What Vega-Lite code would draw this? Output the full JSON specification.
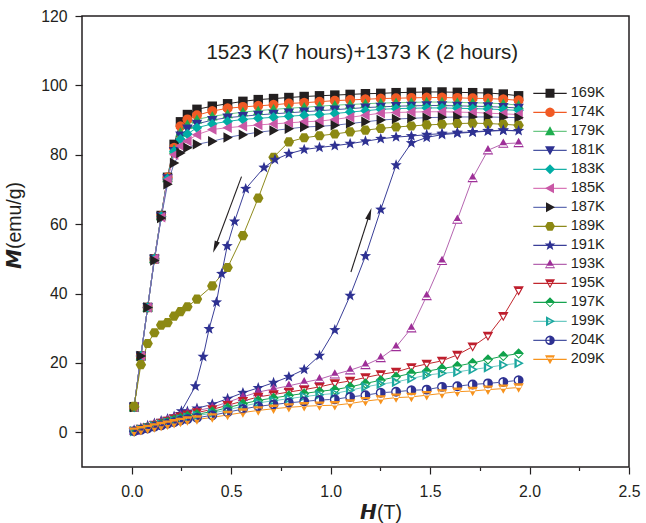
{
  "$schema": "https://vega.github.io/schema/vega-lite/v6.json",
  "width": 547,
  "height": 451,
  "autosize": {"type": "none"},
  "padding": {"left": 82, "top": 16, "right": 17, "bottom": 56},
  "background": "white",
  "config": {
    "view": {"stroke": "#231f20", "strokeWidth": 1.5},
    "font": "Liberation Sans",
    "axis": {"domain": false, "grid": false, "labelFont": "Liberation Sans", "labelFontSize": 15.8, "labelColor": "#231f20", "tickColor": "#231f20", "tickWidth": 1.2, "titleColor": "#231f20", "titleFont": "Liberation Sans", "titleFontWeight": "normal", "titleFontSize": 19.5}
  },
  "datasets": {
    "curves": [
      {"T":"169K","H":0.012,"M":7.3,"i":0},{"T":"169K","H":0.046,"M":22,"i":1},{"T":"169K","H":0.08,"M":36,"i":2},{"T":"169K","H":0.114,"M":50,"i":3},{"T":"169K","H":0.148,"M":62.5,"i":4},{"T":"169K","H":0.18,"M":73.5,"i":5},{"T":"169K","H":0.213,"M":83,"i":6},{"T":"169K","H":0.245,"M":89.5,"i":7},{"T":"169K","H":0.28,"M":91.6,"i":8},{"T":"169K","H":0.328,"M":93.1,"i":9},{"T":"169K","H":0.405,"M":94.0,"i":10},{"T":"169K","H":0.482,"M":94.7,"i":11},{"T":"169K","H":0.559,"M":95.4,"i":12},{"T":"169K","H":0.636,"M":95.9,"i":13},{"T":"169K","H":0.713,"M":96.2,"i":14},{"T":"169K","H":0.79,"M":96.5,"i":15},{"T":"169K","H":0.867,"M":96.8,"i":16},{"T":"169K","H":0.944,"M":97.0,"i":17},{"T":"169K","H":1.021,"M":97.2,"i":18},{"T":"169K","H":1.098,"M":97.4,"i":19},{"T":"169K","H":1.175,"M":97.6,"i":20},{"T":"169K","H":1.252,"M":97.7,"i":21},{"T":"169K","H":1.329,"M":97.9,"i":22},{"T":"169K","H":1.406,"M":98.0,"i":23},{"T":"169K","H":1.483,"M":98.1,"i":24},{"T":"169K","H":1.56,"M":98.1,"i":25},{"T":"169K","H":1.637,"M":98.0,"i":26},{"T":"169K","H":1.714,"M":97.9,"i":27},{"T":"169K","H":1.791,"M":97.8,"i":28},{"T":"169K","H":1.868,"M":97.5,"i":29},{"T":"169K","H":1.945,"M":97.0,"i":30},
      {"T":"174K","H":0.012,"M":7.3,"i":0},{"T":"174K","H":0.046,"M":22,"i":1},{"T":"174K","H":0.08,"M":36,"i":2},{"T":"174K","H":0.114,"M":50,"i":3},{"T":"174K","H":0.148,"M":62.3,"i":4},{"T":"174K","H":0.18,"M":73.5,"i":5},{"T":"174K","H":0.213,"M":82,"i":6},{"T":"174K","H":0.245,"M":88.2,"i":7},{"T":"174K","H":0.28,"M":90.2,"i":8},{"T":"174K","H":0.328,"M":91.4,"i":9},{"T":"174K","H":0.405,"M":92.6,"i":10},{"T":"174K","H":0.482,"M":93.4,"i":11},{"T":"174K","H":0.559,"M":93.8,"i":12},{"T":"174K","H":0.636,"M":94.1,"i":13},{"T":"174K","H":0.713,"M":94.4,"i":14},{"T":"174K","H":0.79,"M":94.8,"i":15},{"T":"174K","H":0.867,"M":95.0,"i":16},{"T":"174K","H":0.944,"M":95.3,"i":17},{"T":"174K","H":1.021,"M":95.6,"i":18},{"T":"174K","H":1.098,"M":95.8,"i":19},{"T":"174K","H":1.175,"M":96.0,"i":20},{"T":"174K","H":1.252,"M":96.2,"i":21},{"T":"174K","H":1.329,"M":96.3,"i":22},{"T":"174K","H":1.406,"M":96.4,"i":23},{"T":"174K","H":1.483,"M":96.5,"i":24},{"T":"174K","H":1.56,"M":96.5,"i":25},{"T":"174K","H":1.637,"M":96.4,"i":26},{"T":"174K","H":1.714,"M":96.3,"i":27},{"T":"174K","H":1.791,"M":96.2,"i":28},{"T":"174K","H":1.868,"M":96.0,"i":29},{"T":"174K","H":1.945,"M":95.7,"i":30},
      {"T":"179K","H":0.012,"M":7.3,"i":0},{"T":"179K","H":0.046,"M":22,"i":1},{"T":"179K","H":0.08,"M":36,"i":2},{"T":"179K","H":0.114,"M":50,"i":3},{"T":"179K","H":0.148,"M":62.3,"i":4},{"T":"179K","H":0.18,"M":73.3,"i":5},{"T":"179K","H":0.213,"M":81.5,"i":6},{"T":"179K","H":0.245,"M":86.5,"i":7},{"T":"179K","H":0.28,"M":88.7,"i":8},{"T":"179K","H":0.328,"M":90.2,"i":9},{"T":"179K","H":0.405,"M":91.1,"i":10},{"T":"179K","H":0.482,"M":91.7,"i":11},{"T":"179K","H":0.559,"M":92.3,"i":12},{"T":"179K","H":0.636,"M":92.7,"i":13},{"T":"179K","H":0.713,"M":93.1,"i":14},{"T":"179K","H":0.79,"M":93.4,"i":15},{"T":"179K","H":0.867,"M":93.7,"i":16},{"T":"179K","H":0.944,"M":94.0,"i":17},{"T":"179K","H":1.021,"M":94.3,"i":18},{"T":"179K","H":1.098,"M":94.5,"i":19},{"T":"179K","H":1.175,"M":94.7,"i":20},{"T":"179K","H":1.252,"M":94.9,"i":21},{"T":"179K","H":1.329,"M":95.0,"i":22},{"T":"179K","H":1.406,"M":95.1,"i":23},{"T":"179K","H":1.483,"M":95.2,"i":24},{"T":"179K","H":1.56,"M":95.2,"i":25},{"T":"179K","H":1.637,"M":95.1,"i":26},{"T":"179K","H":1.714,"M":95.0,"i":27},{"T":"179K","H":1.791,"M":94.9,"i":28},{"T":"179K","H":1.868,"M":94.7,"i":29},{"T":"179K","H":1.945,"M":94.3,"i":30},
      {"T":"181K","H":0.012,"M":7.3,"i":0},{"T":"181K","H":0.046,"M":22,"i":1},{"T":"181K","H":0.08,"M":36,"i":2},{"T":"181K","H":0.114,"M":50,"i":3},{"T":"181K","H":0.148,"M":62.2,"i":4},{"T":"181K","H":0.18,"M":73.2,"i":5},{"T":"181K","H":0.213,"M":81,"i":6},{"T":"181K","H":0.245,"M":85.5,"i":7},{"T":"181K","H":0.28,"M":87.5,"i":8},{"T":"181K","H":0.328,"M":88.9,"i":9},{"T":"181K","H":0.405,"M":90.0,"i":10},{"T":"181K","H":0.482,"M":90.7,"i":11},{"T":"181K","H":0.559,"M":91.1,"i":12},{"T":"181K","H":0.636,"M":91.5,"i":13},{"T":"181K","H":0.713,"M":91.8,"i":14},{"T":"181K","H":0.79,"M":92.1,"i":15},{"T":"181K","H":0.867,"M":92.4,"i":16},{"T":"181K","H":0.944,"M":92.7,"i":17},{"T":"181K","H":1.021,"M":93.0,"i":18},{"T":"181K","H":1.098,"M":93.3,"i":19},{"T":"181K","H":1.175,"M":93.6,"i":20},{"T":"181K","H":1.252,"M":93.8,"i":21},{"T":"181K","H":1.329,"M":94.0,"i":22},{"T":"181K","H":1.406,"M":94.1,"i":23},{"T":"181K","H":1.483,"M":94.2,"i":24},{"T":"181K","H":1.56,"M":94.2,"i":25},{"T":"181K","H":1.637,"M":94.1,"i":26},{"T":"181K","H":1.714,"M":94.0,"i":27},{"T":"181K","H":1.791,"M":93.9,"i":28},{"T":"181K","H":1.868,"M":93.7,"i":29},{"T":"181K","H":1.945,"M":93.5,"i":30},
      {"T":"183K","H":0.012,"M":7.3,"i":0},{"T":"183K","H":0.046,"M":22,"i":1},{"T":"183K","H":0.08,"M":36,"i":2},{"T":"183K","H":0.114,"M":50,"i":3},{"T":"183K","H":0.148,"M":62.2,"i":4},{"T":"183K","H":0.18,"M":73,"i":5},{"T":"183K","H":0.213,"M":81,"i":6},{"T":"183K","H":0.245,"M":84.5,"i":7},{"T":"183K","H":0.28,"M":86,"i":8},{"T":"183K","H":0.328,"M":87.8,"i":9},{"T":"183K","H":0.405,"M":88.9,"i":10},{"T":"183K","H":0.482,"M":89.6,"i":11},{"T":"183K","H":0.559,"M":90.2,"i":12},{"T":"183K","H":0.636,"M":90.5,"i":13},{"T":"183K","H":0.713,"M":90.8,"i":14},{"T":"183K","H":0.79,"M":91.1,"i":15},{"T":"183K","H":0.867,"M":91.4,"i":16},{"T":"183K","H":0.944,"M":91.6,"i":17},{"T":"183K","H":1.021,"M":91.9,"i":18},{"T":"183K","H":1.098,"M":92.3,"i":19},{"T":"183K","H":1.175,"M":92.7,"i":20},{"T":"183K","H":1.252,"M":93.1,"i":21},{"T":"183K","H":1.329,"M":93.3,"i":22},{"T":"183K","H":1.406,"M":93.4,"i":23},{"T":"183K","H":1.483,"M":93.5,"i":24},{"T":"183K","H":1.56,"M":93.5,"i":25},{"T":"183K","H":1.637,"M":93.4,"i":26},{"T":"183K","H":1.714,"M":93.3,"i":27},{"T":"183K","H":1.791,"M":93.2,"i":28},{"T":"183K","H":1.868,"M":93.0,"i":29},{"T":"183K","H":1.945,"M":92.8,"i":30},
      {"T":"185K","H":0.012,"M":7.3,"i":0},{"T":"185K","H":0.046,"M":22,"i":1},{"T":"185K","H":0.08,"M":36,"i":2},{"T":"185K","H":0.114,"M":50,"i":3},{"T":"185K","H":0.148,"M":62,"i":4},{"T":"185K","H":0.18,"M":72.8,"i":5},{"T":"185K","H":0.213,"M":80,"i":6},{"T":"185K","H":0.245,"M":82.5,"i":7},{"T":"185K","H":0.28,"M":84,"i":8},{"T":"185K","H":0.328,"M":85.8,"i":9},{"T":"185K","H":0.405,"M":87.3,"i":10},{"T":"185K","H":0.482,"M":87.8,"i":11},{"T":"185K","H":0.559,"M":88.2,"i":12},{"T":"185K","H":0.636,"M":88.6,"i":13},{"T":"185K","H":0.713,"M":88.9,"i":14},{"T":"185K","H":0.79,"M":89.2,"i":15},{"T":"185K","H":0.867,"M":89.5,"i":16},{"T":"185K","H":0.944,"M":89.7,"i":17},{"T":"185K","H":1.021,"M":90.2,"i":18},{"T":"185K","H":1.098,"M":90.8,"i":19},{"T":"185K","H":1.175,"M":91.4,"i":20},{"T":"185K","H":1.252,"M":92.0,"i":21},{"T":"185K","H":1.329,"M":92.2,"i":22},{"T":"185K","H":1.406,"M":92.3,"i":23},{"T":"185K","H":1.483,"M":92.4,"i":24},{"T":"185K","H":1.56,"M":92.4,"i":25},{"T":"185K","H":1.637,"M":92.3,"i":26},{"T":"185K","H":1.714,"M":92.2,"i":27},{"T":"185K","H":1.791,"M":92.0,"i":28},{"T":"185K","H":1.868,"M":91.8,"i":29},{"T":"185K","H":1.945,"M":91.6,"i":30},
      {"T":"187K","H":0.012,"M":7.3,"i":0},{"T":"187K","H":0.046,"M":22,"i":1},{"T":"187K","H":0.08,"M":36,"i":2},{"T":"187K","H":0.114,"M":49.5,"i":3},{"T":"187K","H":0.148,"M":61.8,"i":4},{"T":"187K","H":0.18,"M":71.5,"i":5},{"T":"187K","H":0.213,"M":77.6,"i":6},{"T":"187K","H":0.245,"M":80.5,"i":7},{"T":"187K","H":0.28,"M":82,"i":8},{"T":"187K","H":0.328,"M":83.0,"i":9},{"T":"187K","H":0.405,"M":83.9,"i":10},{"T":"187K","H":0.482,"M":85.0,"i":11},{"T":"187K","H":0.559,"M":85.8,"i":12},{"T":"187K","H":0.636,"M":86.5,"i":13},{"T":"187K","H":0.713,"M":87.0,"i":14},{"T":"187K","H":0.79,"M":87.5,"i":15},{"T":"187K","H":0.867,"M":88.0,"i":16},{"T":"187K","H":0.944,"M":88.2,"i":17},{"T":"187K","H":1.021,"M":88.5,"i":18},{"T":"187K","H":1.098,"M":89.0,"i":19},{"T":"187K","H":1.175,"M":89.5,"i":20},{"T":"187K","H":1.252,"M":90.0,"i":21},{"T":"187K","H":1.329,"M":90.3,"i":22},{"T":"187K","H":1.406,"M":90.5,"i":23},{"T":"187K","H":1.483,"M":90.7,"i":24},{"T":"187K","H":1.56,"M":90.8,"i":25},{"T":"187K","H":1.637,"M":90.9,"i":26},{"T":"187K","H":1.714,"M":90.9,"i":27},{"T":"187K","H":1.791,"M":90.9,"i":28},{"T":"187K","H":1.868,"M":90.8,"i":29},{"T":"187K","H":1.945,"M":90.7,"i":30},
      {"T":"189K","H":0.012,"M":7.5,"i":0},{"T":"189K","H":0.046,"M":19.5,"i":1},{"T":"189K","H":0.08,"M":25.6,"i":2},{"T":"189K","H":0.114,"M":28.7,"i":3},{"T":"189K","H":0.148,"M":30.9,"i":4},{"T":"189K","H":0.18,"M":31.6,"i":5},{"T":"189K","H":0.213,"M":33.5,"i":6},{"T":"189K","H":0.245,"M":34.8,"i":7},{"T":"189K","H":0.28,"M":36.2,"i":8},{"T":"189K","H":0.328,"M":38.4,"i":9},{"T":"189K","H":0.405,"M":42.2,"i":10},{"T":"189K","H":0.482,"M":47.5,"i":11},{"T":"189K","H":0.559,"M":56.7,"i":12},{"T":"189K","H":0.636,"M":67.5,"i":13},{"T":"189K","H":0.713,"M":79.3,"i":14},{"T":"189K","H":0.79,"M":83.7,"i":15},{"T":"189K","H":0.867,"M":84.9,"i":16},{"T":"189K","H":0.944,"M":85.5,"i":17},{"T":"189K","H":1.021,"M":86.0,"i":18},{"T":"189K","H":1.098,"M":86.6,"i":19},{"T":"189K","H":1.175,"M":87.1,"i":20},{"T":"189K","H":1.252,"M":87.6,"i":21},{"T":"189K","H":1.329,"M":88.0,"i":22},{"T":"189K","H":1.406,"M":88.3,"i":23},{"T":"189K","H":1.483,"M":88.6,"i":24},{"T":"189K","H":1.56,"M":88.8,"i":25},{"T":"189K","H":1.637,"M":89.0,"i":26},{"T":"189K","H":1.714,"M":89.1,"i":27},{"T":"189K","H":1.791,"M":89.0,"i":28},{"T":"189K","H":1.868,"M":88.8,"i":29},{"T":"189K","H":1.945,"M":88.5,"i":30},
      {"T":"191K","H":0.012,"M":0.6,"i":0},{"T":"191K","H":0.046,"M":1.2,"i":1},{"T":"191K","H":0.08,"M":1.9,"i":2},{"T":"191K","H":0.114,"M":2.6,"i":3},{"T":"191K","H":0.148,"M":3.3,"i":4},{"T":"191K","H":0.18,"M":3.9,"i":5},{"T":"191K","H":0.213,"M":4.6,"i":6},{"T":"191K","H":0.245,"M":5.3,"i":7},{"T":"191K","H":0.28,"M":6.0,"i":8},{"T":"191K","H":0.328,"M":6.9,"i":9},{"T":"191K","H":0.405,"M":8.1,"i":10},{"T":"191K","H":0.482,"M":9.7,"i":11},{"T":"191K","H":0.559,"M":11.4,"i":12},{"T":"191K","H":0.636,"M":12.8,"i":13},{"T":"191K","H":0.713,"M":14.3,"i":14},{"T":"191K","H":0.79,"M":16.0,"i":15},{"T":"191K","H":0.867,"M":18.1,"i":16},{"T":"191K","H":0.944,"M":22.1,"i":17},{"T":"191K","H":1.021,"M":29.5,"i":18},{"T":"191K","H":1.098,"M":39.4,"i":19},{"T":"191K","H":1.175,"M":50.8,"i":20},{"T":"191K","H":1.252,"M":64.2,"i":21},{"T":"191K","H":1.329,"M":77.0,"i":22},{"T":"191K","H":1.406,"M":83.4,"i":23},{"T":"191K","H":1.483,"M":85.0,"i":24},{"T":"191K","H":1.56,"M":85.8,"i":25},{"T":"191K","H":1.637,"M":86.2,"i":26},{"T":"191K","H":1.714,"M":86.5,"i":27},{"T":"191K","H":1.791,"M":86.8,"i":28},{"T":"191K","H":1.868,"M":87.0,"i":29},{"T":"191K","H":1.945,"M":86.9,"i":30},
      {"T":"191K","H":1.868,"M":87.1,"i":31},{"T":"191K","H":1.791,"M":86.9,"i":32},{"T":"191K","H":1.714,"M":86.6,"i":33},{"T":"191K","H":1.637,"M":86.4,"i":34},{"T":"191K","H":1.56,"M":86.1,"i":35},{"T":"191K","H":1.483,"M":85.8,"i":36},{"T":"191K","H":1.406,"M":85.4,"i":37},{"T":"191K","H":1.329,"M":85.1,"i":38},{"T":"191K","H":1.252,"M":84.6,"i":39},{"T":"191K","H":1.175,"M":83.9,"i":40},{"T":"191K","H":1.098,"M":83.2,"i":41},{"T":"191K","H":1.021,"M":82.6,"i":42},{"T":"191K","H":0.944,"M":82.1,"i":43},{"T":"191K","H":0.867,"M":81.5,"i":44},{"T":"191K","H":0.79,"M":80.3,"i":45},{"T":"191K","H":0.72,"M":78.6,"i":46},{"T":"191K","H":0.665,"M":76.3,"i":47},{"T":"191K","H":0.573,"M":70.2,"i":48},{"T":"191K","H":0.517,"M":60.8,"i":49},{"T":"191K","H":0.48,"M":53.7,"i":50},{"T":"191K","H":0.452,"M":45.7,"i":51},{"T":"191K","H":0.426,"M":37.5,"i":52},{"T":"191K","H":0.389,"M":29.8,"i":53},{"T":"191K","H":0.359,"M":21.8,"i":54},{"T":"191K","H":0.32,"M":13.3,"i":55},{"T":"191K","H":0.25,"M":6.1,"i":56},
      {"T":"193K","H":0.012,"M":0.5,"i":0},{"T":"193K","H":0.046,"M":1.1,"i":1},{"T":"193K","H":0.08,"M":1.7,"i":2},{"T":"193K","H":0.114,"M":2.4,"i":3},{"T":"193K","H":0.148,"M":3.0,"i":4},{"T":"193K","H":0.18,"M":3.6,"i":5},{"T":"193K","H":0.213,"M":4.3,"i":6},{"T":"193K","H":0.245,"M":4.9,"i":7},{"T":"193K","H":0.28,"M":5.5,"i":8},{"T":"193K","H":0.328,"M":6.2,"i":9},{"T":"193K","H":0.405,"M":7.2,"i":10},{"T":"193K","H":0.482,"M":8.7,"i":11},{"T":"193K","H":0.559,"M":10.2,"i":12},{"T":"193K","H":0.636,"M":11.6,"i":13},{"T":"193K","H":0.713,"M":12.5,"i":14},{"T":"193K","H":0.79,"M":13.4,"i":15},{"T":"193K","H":0.867,"M":14.4,"i":16},{"T":"193K","H":0.944,"M":15.3,"i":17},{"T":"193K","H":1.021,"M":16.7,"i":18},{"T":"193K","H":1.098,"M":17.9,"i":19},{"T":"193K","H":1.175,"M":19.4,"i":20},{"T":"193K","H":1.252,"M":21.4,"i":21},{"T":"193K","H":1.329,"M":24.6,"i":22},{"T":"193K","H":1.406,"M":30.0,"i":23},{"T":"193K","H":1.483,"M":39.3,"i":24},{"T":"193K","H":1.56,"M":49.4,"i":25},{"T":"193K","H":1.637,"M":61.3,"i":26},{"T":"193K","H":1.714,"M":73.3,"i":27},{"T":"193K","H":1.791,"M":81.3,"i":28},{"T":"193K","H":1.868,"M":83.2,"i":29},{"T":"193K","H":1.945,"M":83.4,"i":30},
      {"T":"195K","H":0.012,"M":0.4,"i":0},{"T":"195K","H":0.046,"M":1.0,"i":1},{"T":"195K","H":0.08,"M":1.5,"i":2},{"T":"195K","H":0.114,"M":2.1,"i":3},{"T":"195K","H":0.148,"M":2.7,"i":4},{"T":"195K","H":0.18,"M":3.3,"i":5},{"T":"195K","H":0.213,"M":3.9,"i":6},{"T":"195K","H":0.245,"M":4.5,"i":7},{"T":"195K","H":0.28,"M":5.1,"i":8},{"T":"195K","H":0.328,"M":5.7,"i":9},{"T":"195K","H":0.405,"M":6.6,"i":10},{"T":"195K","H":0.482,"M":7.8,"i":11},{"T":"195K","H":0.559,"M":9.0,"i":12},{"T":"195K","H":0.636,"M":10.2,"i":13},{"T":"195K","H":0.713,"M":10.9,"i":14},{"T":"195K","H":0.79,"M":11.6,"i":15},{"T":"195K","H":0.867,"M":12.3,"i":16},{"T":"195K","H":0.944,"M":13.1,"i":17},{"T":"195K","H":1.021,"M":14.1,"i":18},{"T":"195K","H":1.098,"M":14.8,"i":19},{"T":"195K","H":1.175,"M":15.8,"i":20},{"T":"195K","H":1.252,"M":16.7,"i":21},{"T":"195K","H":1.329,"M":17.4,"i":22},{"T":"195K","H":1.406,"M":18.7,"i":23},{"T":"195K","H":1.483,"M":19.7,"i":24},{"T":"195K","H":1.56,"M":20.6,"i":25},{"T":"195K","H":1.637,"M":22.3,"i":26},{"T":"195K","H":1.714,"M":24.7,"i":27},{"T":"195K","H":1.791,"M":27.8,"i":28},{"T":"195K","H":1.868,"M":33.5,"i":29},{"T":"195K","H":1.945,"M":40.9,"i":30},
      {"T":"197K","H":0.012,"M":0.3,"i":0},{"T":"197K","H":0.046,"M":0.9,"i":1},{"T":"197K","H":0.08,"M":1.4,"i":2},{"T":"197K","H":0.114,"M":1.9,"i":3},{"T":"197K","H":0.148,"M":2.5,"i":4},{"T":"197K","H":0.18,"M":3.0,"i":5},{"T":"197K","H":0.213,"M":3.6,"i":6},{"T":"197K","H":0.245,"M":4.1,"i":7},{"T":"197K","H":0.28,"M":4.7,"i":8},{"T":"197K","H":0.328,"M":5.2,"i":9},{"T":"197K","H":0.405,"M":6.0,"i":10},{"T":"197K","H":0.482,"M":7.1,"i":11},{"T":"197K","H":0.559,"M":8.2,"i":12},{"T":"197K","H":0.636,"M":9.2,"i":13},{"T":"197K","H":0.713,"M":9.9,"i":14},{"T":"197K","H":0.79,"M":10.6,"i":15},{"T":"197K","H":0.867,"M":11.2,"i":16},{"T":"197K","H":0.944,"M":11.8,"i":17},{"T":"197K","H":1.021,"M":12.3,"i":18},{"T":"197K","H":1.098,"M":13.1,"i":19},{"T":"197K","H":1.175,"M":14.1,"i":20},{"T":"197K","H":1.252,"M":15.0,"i":21},{"T":"197K","H":1.329,"M":16.0,"i":22},{"T":"197K","H":1.406,"M":17.0,"i":23},{"T":"197K","H":1.483,"M":17.6,"i":24},{"T":"197K","H":1.56,"M":18.4,"i":25},{"T":"197K","H":1.637,"M":19.1,"i":26},{"T":"197K","H":1.714,"M":20.0,"i":27},{"T":"197K","H":1.791,"M":21.0,"i":28},{"T":"197K","H":1.868,"M":22.0,"i":29},{"T":"197K","H":1.945,"M":22.7,"i":30},
      {"T":"199K","H":0.012,"M":0.3,"i":0},{"T":"199K","H":0.046,"M":0.8,"i":1},{"T":"199K","H":0.08,"M":1.3,"i":2},{"T":"199K","H":0.114,"M":1.8,"i":3},{"T":"199K","H":0.148,"M":2.3,"i":4},{"T":"199K","H":0.18,"M":2.8,"i":5},{"T":"199K","H":0.213,"M":3.3,"i":6},{"T":"199K","H":0.245,"M":3.8,"i":7},{"T":"199K","H":0.28,"M":4.3,"i":8},{"T":"199K","H":0.328,"M":4.8,"i":9},{"T":"199K","H":0.405,"M":5.5,"i":10},{"T":"199K","H":0.482,"M":6.5,"i":11},{"T":"199K","H":0.559,"M":7.5,"i":12},{"T":"199K","H":0.636,"M":8.5,"i":13},{"T":"199K","H":0.713,"M":9.1,"i":14},{"T":"199K","H":0.79,"M":9.7,"i":15},{"T":"199K","H":0.867,"M":10.3,"i":16},{"T":"199K","H":0.944,"M":10.8,"i":17},{"T":"199K","H":1.021,"M":11.2,"i":18},{"T":"199K","H":1.098,"M":12.1,"i":19},{"T":"199K","H":1.175,"M":13.1,"i":20},{"T":"199K","H":1.252,"M":13.9,"i":21},{"T":"199K","H":1.329,"M":14.5,"i":22},{"T":"199K","H":1.406,"M":15.5,"i":23},{"T":"199K","H":1.483,"M":16.5,"i":24},{"T":"199K","H":1.56,"M":17.0,"i":25},{"T":"199K","H":1.637,"M":17.4,"i":26},{"T":"199K","H":1.714,"M":18.1,"i":27},{"T":"199K","H":1.791,"M":18.7,"i":28},{"T":"199K","H":1.868,"M":19.4,"i":29},{"T":"199K","H":1.945,"M":19.9,"i":30},
      {"T":"204K","H":0.012,"M":0.3,"i":0},{"T":"204K","H":0.046,"M":0.7,"i":1},{"T":"204K","H":0.08,"M":1.1,"i":2},{"T":"204K","H":0.114,"M":1.6,"i":3},{"T":"204K","H":0.148,"M":2.0,"i":4},{"T":"204K","H":0.18,"M":2.5,"i":5},{"T":"204K","H":0.213,"M":2.9,"i":6},{"T":"204K","H":0.245,"M":3.4,"i":7},{"T":"204K","H":0.28,"M":3.8,"i":8},{"T":"204K","H":0.328,"M":4.2,"i":9},{"T":"204K","H":0.405,"M":4.9,"i":10},{"T":"204K","H":0.482,"M":5.8,"i":11},{"T":"204K","H":0.559,"M":6.7,"i":12},{"T":"204K","H":0.636,"M":7.5,"i":13},{"T":"204K","H":0.713,"M":8.0,"i":14},{"T":"204K","H":0.79,"M":8.5,"i":15},{"T":"204K","H":0.867,"M":8.9,"i":16},{"T":"204K","H":0.944,"M":9.3,"i":17},{"T":"204K","H":1.021,"M":9.5,"i":18},{"T":"204K","H":1.098,"M":10.2,"i":19},{"T":"204K","H":1.175,"M":10.7,"i":20},{"T":"204K","H":1.252,"M":11.4,"i":21},{"T":"204K","H":1.329,"M":11.7,"i":22},{"T":"204K","H":1.406,"M":12.1,"i":23},{"T":"204K","H":1.483,"M":12.3,"i":24},{"T":"204K","H":1.56,"M":13.1,"i":25},{"T":"204K","H":1.637,"M":13.3,"i":26},{"T":"204K","H":1.714,"M":13.8,"i":27},{"T":"204K","H":1.791,"M":14.1,"i":28},{"T":"204K","H":1.868,"M":14.5,"i":29},{"T":"204K","H":1.945,"M":15.0,"i":30},
      {"T":"209K","H":0.012,"M":0.2,"i":0},{"T":"209K","H":0.046,"M":0.6,"i":1},{"T":"209K","H":0.08,"M":1.0,"i":2},{"T":"209K","H":0.114,"M":1.4,"i":3},{"T":"209K","H":0.148,"M":1.8,"i":4},{"T":"209K","H":0.18,"M":2.2,"i":5},{"T":"209K","H":0.213,"M":2.6,"i":6},{"T":"209K","H":0.245,"M":3.0,"i":7},{"T":"209K","H":0.28,"M":3.4,"i":8},{"T":"209K","H":0.328,"M":3.7,"i":9},{"T":"209K","H":0.405,"M":4.3,"i":10},{"T":"209K","H":0.482,"M":5.0,"i":11},{"T":"209K","H":0.559,"M":5.7,"i":12},{"T":"209K","H":0.636,"M":6.3,"i":13},{"T":"209K","H":0.713,"M":6.8,"i":14},{"T":"209K","H":0.79,"M":7.2,"i":15},{"T":"209K","H":0.867,"M":7.5,"i":16},{"T":"209K","H":0.944,"M":7.7,"i":17},{"T":"209K","H":1.021,"M":7.8,"i":18},{"T":"209K","H":1.098,"M":8.3,"i":19},{"T":"209K","H":1.175,"M":9.0,"i":20},{"T":"209K","H":1.252,"M":9.5,"i":21},{"T":"209K","H":1.329,"M":10.0,"i":22},{"T":"209K","H":1.406,"M":10.2,"i":23},{"T":"209K","H":1.483,"M":10.7,"i":24},{"T":"209K","H":1.56,"M":11.2,"i":25},{"T":"209K","H":1.637,"M":11.7,"i":26},{"T":"209K","H":1.714,"M":11.9,"i":27},{"T":"209K","H":1.791,"M":12.3,"i":28},{"T":"209K","H":1.868,"M":12.6,"i":29},{"T":"209K","H":1.945,"M":12.9,"i":30}
    ],
    "arrows": [
      {"H":0.552,"M":73.7,"H2":0.42,"M2":53.4},
      {"H":1.102,"M":46.2,"H2":1.196,"M2":63.0}
    ]
  },
  "layer": [
    {
      "data": {"name": "curves"},
      "mark": {"type": "line", "strokeWidth": 1},
      "encoding": {
        "x": {"field": "H", "type": "quantitative", "scale": {"domain": [-0.25, 2.5], "nice": false, "zero": false},
          "axis": {"values": [0,0.25,0.5,0.75,1,1.25,1.5,1.75,2,2.25,2.5], "format": ".1f",
            "labelExpr": "round(datum.value*100) % 50 === 0 ? datum.label : ''",
            "tickSize": {"condition": {"test": "round(datum.value*100) % 50 === 0", "value": 7}, "value": 3.5},
            "labelPadding": 10, "labelFlush": false, "labelOverlap": false,
            "title": "\ud835\ude43(T)", "titleX": 298.5, "titleY": 51, "titleAlign": "center", "titleBaseline": "alphabetic"}},
        "y": {"field": "M", "type": "quantitative", "scale": {"domain": [-10, 120], "nice": false, "zero": false},
          "axis": {"values": [0,10,20,30,40,50,60,70,80,90,100,110,120], "format": "d",
            "labelExpr": "datum.value % 20 === 0 ? datum.label : ''",
            "tickSize": {"condition": {"test": "datum.value % 20 === 0", "value": 7}, "value": 3.5},
            "labelPadding": 8, "labelFlush": false, "labelOverlap": false,
            "title": "\ud835\ude48(emu/g)", "titleX": -61.3, "titleY": 209, "titleAngle": -90, "titleAlign": "center", "titleBaseline": "alphabetic"}},
        "stroke": {"field": "T", "type": "nominal",
          "scale": {"domain": ["169K","174K","179K","181K","183K","185K","187K","189K","191K","193K","195K","197K","199K","204K","209K"],
            "range": ["#231f20","#f15a24","#6cc785","#4a55a2","#19b0a6","#d978b8","#6470b4","#8e8a1c","#3a3f98","#b565b0","#c1272d","#16a350","#6dcac3","#4a55a2","#f7941d"]},
          "legend": {"title": null, "orient": "none", "legendX": 450.5, "legendY": 68, "symbolType": "stroke", "symbolSize": 1116, "symbolStrokeWidth": 1.2, "labelFontSize": 14.6, "labelFont": "Liberation Sans", "labelColor": "#231f20", "labelOffset": 3.2, "clipHeight": 18.7, "rowPadding": 0, "padding": 0}},
        "order": {"field": "i", "type": "quantitative"}
      }
    },
    {
      "data": {"name": "curves"},
      "transform": [{"filter": {"field": "T", "equal": "193K"}}],
      "mark": {"type": "point", "shape": "M0,-1L1,0.8L-1,0.8Z", "filled": true, "size": 110, "strokeWidth": 0, "opacity": 1, "fill": "white"},
      "encoding": {"x": {"field": "H", "type": "quantitative"}, "y": {"field": "M", "type": "quantitative"}}
    },
    {
      "data": {"name": "curves"},
      "transform": [{"filter": {"field": "T", "oneOf": ["195K", "209K"]}}],
      "mark": {"type": "point", "shape": "M-1,-0.8L1,-0.8L0,1Z", "filled": true, "size": 110, "strokeWidth": 0, "opacity": 1, "fill": "white"},
      "encoding": {"x": {"field": "H", "type": "quantitative"}, "y": {"field": "M", "type": "quantitative"}}
    },
    {
      "data": {"name": "curves"},
      "transform": [{"filter": {"field": "T", "equal": "197K"}}],
      "mark": {"type": "point", "shape": "M0,-1L1,0L0,1L-1,0Z", "filled": true, "size": 110, "strokeWidth": 0, "opacity": 1, "fill": "white"},
      "encoding": {"x": {"field": "H", "type": "quantitative"}, "y": {"field": "M", "type": "quantitative"}}
    },
    {
      "data": {"name": "curves"},
      "transform": [{"filter": {"field": "T", "equal": "199K"}}],
      "mark": {"type": "point", "shape": "M1,0L-0.8,1L-0.8,-1Z", "filled": true, "size": 110, "strokeWidth": 0, "opacity": 1, "fill": "white"},
      "encoding": {"x": {"field": "H", "type": "quantitative"}, "y": {"field": "M", "type": "quantitative"}}
    },
    {
      "data": {"name": "curves"},
      "transform": [{"filter": {"field": "T", "equal": "204K"}}],
      "mark": {"type": "point", "shape": "M0.95,0L0.878,0.364L0.672,0.672L0.364,0.878L0,0.95L-0.364,0.878L-0.672,0.672L-0.878,0.364L-0.95,0L-0.878,-0.364L-0.672,-0.672L-0.364,-0.878L0,-0.95L0.364,-0.878L0.672,-0.672L0.878,-0.364Z", "filled": true, "size": 110, "strokeWidth": 0, "opacity": 1, "fill": "white"},
      "encoding": {"x": {"field": "H", "type": "quantitative"}, "y": {"field": "M", "type": "quantitative"}}
    },
    {
      "data": {"name": "curves"},
      "mark": {"type": "point", "filled": true, "size": 110, "strokeWidth": 0, "opacity": 1},
      "encoding": {
        "x": {"field": "H", "type": "quantitative"},
        "y": {"field": "M", "type": "quantitative"},
        "fill": {"field": "T", "type": "nominal",
          "scale": {"range": ["#231f20","#f15a24","#1fae4f","#2e3192","#00ada5","#c958a6","#231f20","#8c8913","#2e3192","#9e2f98","#be1e2d","#10a24b","#1ba79f","#2e3192","#f7931e"]},
          "legend": {"title": null, "orient": "none", "legendX": 460.7, "legendY": 68, "symbolSize": 100, "symbolStrokeWidth": 0, "symbolOpacity": 1, "labelExpr": "''", "labelFontSize": 14.6, "clipHeight": 18.7, "rowPadding": 0, "padding": 0}},
        "shape": {"field": "T", "type": "nominal",
          "scale": {"range": [
            "M-0.9,-0.9L0.9,-0.9L0.9,0.9L-0.9,0.9Z",
            "M0.95,0L0.878,0.364L0.672,0.672L0.364,0.878L0,0.95L-0.364,0.878L-0.672,0.672L-0.878,0.364L-0.95,0L-0.878,-0.364L-0.672,-0.672L-0.364,-0.878L0,-0.95L0.364,-0.878L0.672,-0.672L0.878,-0.364Z",
            "M0,-1L1,0.8L-1,0.8Z",
            "M-1,-0.8L1,-0.8L0,1Z",
            "M0,-1L1,0L0,1L-1,0Z",
            "M-1,0L0.8,-1L0.8,1Z",
            "M1,0L-0.8,1L-0.8,-1Z",
            "M1,0L0.5,0.87L-0.5,0.87L-1,0L-0.5,-0.87L0.5,-0.87Z",
            "M0,-1.12L0.28,-0.38L1.07,-0.35L0.45,0.15L0.66,0.91L0,0.47L-0.66,0.91L-0.45,0.15L-1.07,-0.35L-0.28,-0.38Z",
            "M0,-1L1,0.8L-1,0.8ZM-0.6,0.28L-0.76,0.58L0.76,0.58L0.6,0.28Z",
            "M-1,-0.8L1,-0.8L0,1ZM-0.45,-0.25L0,0.55L0.45,-0.25Z",
            "M0,-1L1,0L0,1L-1,0ZM-0.65,0.08L0,0.72L0.65,0.08Z",
            "M1,0L-0.8,1L-0.8,-1ZM-0.35,-0.42L-0.35,0.42L0.4,0Z",
            "M0.95,0L0.878,0.364L0.672,0.672L0.364,0.878L0,0.95L-0.364,0.878L-0.672,0.672L-0.878,0.364L-0.95,0L-0.878,-0.364L-0.672,-0.672L-0.364,-0.878L0,-0.95L0.364,-0.878L0.672,-0.672L0.878,-0.364ZM-0.1,-0.6L-0.33,-0.554L-0.524,-0.424L-0.654,-0.23L-0.7,0L-0.654,0.23L-0.524,0.424L-0.33,0.554L-0.1,0.6Z",
            "M-1,-0.8L1,-0.8L0,1ZM-0.62,-0.35L-0.4,0.05L0.4,0.05L0.62,-0.35Z"
          ]},
          "legend": {"title": null, "orient": "none", "legendX": 460.7, "legendY": 68, "symbolSize": 100, "symbolStrokeWidth": 0, "symbolOpacity": 1, "labelExpr": "''", "labelFontSize": 14.6, "clipHeight": 18.7, "rowPadding": 0, "padding": 0}}
      }
    },
    {
      "data": {"name": "arrows"},
      "mark": {"type": "rule", "color": "#231f20", "strokeWidth": 1.1},
      "encoding": {
        "x": {"field": "H", "type": "quantitative"},
        "y": {"field": "M", "type": "quantitative"},
        "x2": {"field": "H2"},
        "y2": {"field": "M2"}
      }
    },
    {
      "data": {"values": [{}]},
      "mark": {"type": "point", "shape": "M0,-1L0.45,1L-0.45,1Z", "filled": true, "fill": "#231f20", "strokeWidth": 0, "opacity": 1, "size": 144, "angle": 200.5},
      "encoding": {"x": {"datum": 0.4196, "type": "quantitative"}, "y": {"datum": 53.4, "type": "quantitative"}}
    },
    {
      "data": {"values": [{}]},
      "mark": {"type": "point", "shape": "M0,-1L0.45,1L-0.45,1Z", "filled": true, "fill": "#231f20", "strokeWidth": 0, "opacity": 1, "size": 144, "angle": 17.8},
      "encoding": {"x": {"datum": 1.196, "type": "quantitative"}, "y": {"datum": 63.0, "type": "quantitative"}}
    },
    {
      "data": {"values": [{}]},
      "mark": {"type": "text", "text": "1523 K(7 hours)+1373 K (2 hours)", "font": "Liberation Sans", "fontSize": 20.5, "color": "#231f20", "baseline": "alphabetic", "align": "center"},
      "encoding": {"x": {"datum": 1.159, "type": "quantitative"}, "y": {"datum": 107.5, "type": "quantitative"}}
    }
  ]
}
